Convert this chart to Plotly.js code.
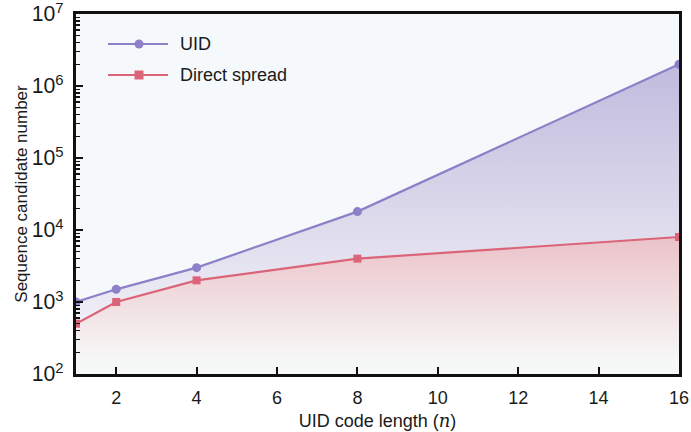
<!DOCTYPE html>
<html>
<head>
<meta charset="utf-8">
<script src="https://cdn.plot.ly/plotly-3.0.1.min.js"></script>
<style>html,body{margin:0;padding:0;background:#fff;}#chart{width:691px;height:432px;}</style>
</head>
<body>
<div id="chart"></div>
<script>
const codeLength = [1, 2, 4, 8, 16];
const uidValues = [1000, 1500, 3000, 18000, 2000000];
const directSpreadValues = [500, 1000, 2000, 4000, 8000];
const seriesNames = ["UID", "Direct spread"];
const xTickValues = [2, 4, 6, 8, 10, 12, 14, 16];

const font = "Liberation Sans, Arial, sans-serif";
const uidColor = "#8d80c8";
const dsColor = "#dc6479";

const M = {l: 76, r: 12, t: 14, b: 58};
const W = 691, H = 432;
const plotW = W - M.l - M.r, plotH = H - M.t - M.b;

const traces = [
  {
    x: codeLength, y: directSpreadValues, name: seriesNames[1],
    type: "scatter", mode: "lines+markers",
    line: {color: dsColor, width: 2.2},
    marker: {symbol: "square", size: 8, color: dsColor},
    fill: "tozeroy",
    fillgradient: {type: "vertical", start: 150, stop: 8000, colorscale: [[0, "#f6f8f7"], [1, "#ebc2c9"]]},
    showlegend: false
  },
  {
    x: codeLength, y: uidValues, name: seriesNames[0],
    type: "scatter", mode: "lines+markers",
    line: {color: uidColor, width: 2.2},
    marker: {symbol: "circle", size: 9, color: uidColor},
    fill: "tonexty",
    fillgradient: {type: "vertical", colorscale: [[0, "#f0eff6"], [1, "#c0bbdd"]]},
    showlegend: false
  }
];

// custom legend in paper coordinates
function px2x(px) { return (px - M.l) / plotW; }
function py2y(py) { return (H - M.b - py) / plotH; }
const legendRows = [
  {name: seriesNames[0], color: uidColor, sym: "circle", py: 44},
  {name: seriesNames[1], color: dsColor, sym: "rect", py: 75}
];
const shapes = [];
const annotations = [];
legendRows.forEach(r => {
  shapes.push({type: "line", xref: "paper", yref: "paper", x0: px2x(108), x1: px2x(168), y0: py2y(r.py), y1: py2y(r.py), line: {color: r.color, width: 2.2}});
  shapes.push({type: r.sym, xref: "paper", yref: "paper", xsizemode: "pixel", ysizemode: "pixel",
    xanchor: px2x(139), yanchor: py2y(r.py), x0: -4.5, x1: 4.5, y0: -4.5, y1: 4.5,
    fillcolor: r.color, line: {color: r.color, width: 0}});
  annotations.push({xref: "paper", yref: "paper", x: px2x(178), y: py2y(r.py), xanchor: "left", yanchor: "middle",
    text: r.name, showarrow: false, font: {family: font, size: 18, color: "#1a1a1a"}});
});

const layout = {
  width: W, height: H,
  margin: M,
  paper_bgcolor: "#ffffff",
  plot_bgcolor: "#f5f9fb",
  font: {family: font, size: 16, color: "#1a1a1a"},
  showlegend: false,
  shapes: shapes,
  annotations: annotations,
  xaxis: {
    range: [1, 16], tickvals: xTickValues, ticktext: xTickValues.map(String),
    ticks: "inside", ticklen: 7, tickwidth: 2, tickcolor: "#111",
    showline: true, linecolor: "#111", linewidth: 3, mirror: true,
    showgrid: false, zeroline: false,
    ticklabelstandoff: 5,
    tickfont: {family: font, size: 18},
    title: {text: "UID code length (<span style=\"font-family:'DejaVu Serif';font-style:italic\">n</span>)", font: {family: font, size: 18}, standoff: 8}
  },
  yaxis: {
    type: "log", range: [2, 7], dtick: 1, exponentformat: "power",
    ticks: "inside", ticklen: 7, tickwidth: 2, tickcolor: "#111",
    minor: {ticks: "inside", ticklen: 4, tickwidth: 1.5, tickcolor: "#111", dtick: "D1", showgrid: false},
    showline: true, linecolor: "#111", linewidth: 3, mirror: true,
    showgrid: false, zeroline: false,
    ticklabelstandoff: 6, ticklabeloverflow: "allow",
    tickfont: {family: font, size: 17},
    title: {text: "Sequence candidate number", font: {family: font, size: 17}, standoff: 0}
  }
};

Plotly.newPlot("chart", traces, layout, {displayModeBar: false, staticPlot: true});
</script>
</body>
</html>
